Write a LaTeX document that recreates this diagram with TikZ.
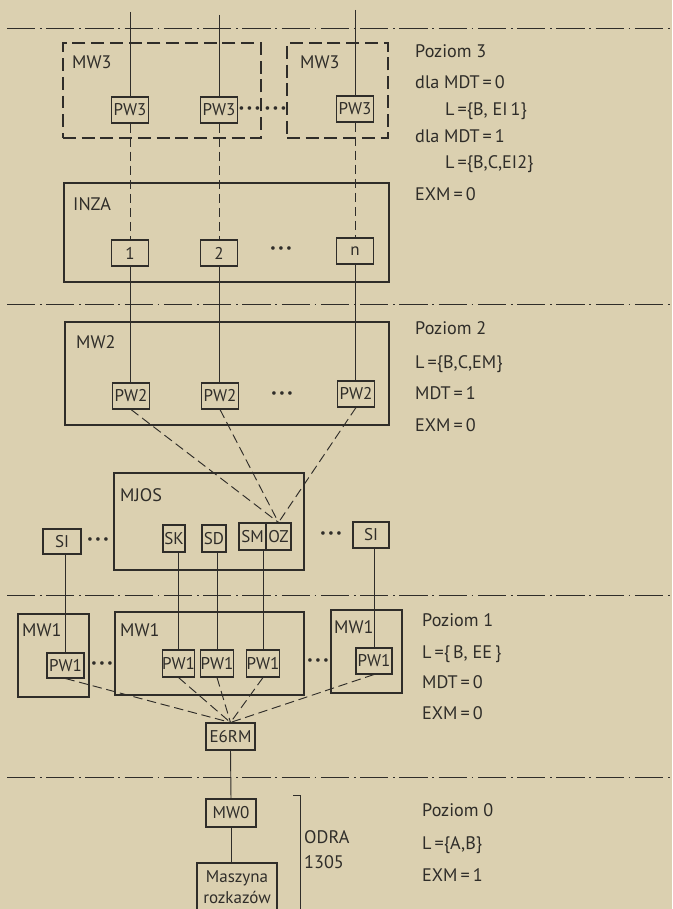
\documentclass[tikz,border=0pt]{standalone}
\usepackage{fontspec}
\setmainfont{PT Sans}
\usetikzlibrary{positioning,calc}
\definecolor{Paper}{HTML}{DBD0B0}
\definecolor{Ink}{HTML}{2F2D29}

\begin{document}
\begin{tikzpicture}[x=0.03cm,y=-0.03cm,
  every node/.style={font=\fontsize{15.5}{19}\selectfont,text=Ink},
  box/.style={draw=Ink,line width=0.9pt,inner sep=0.5pt,minimum width=1.11cm,minimum height=0.78cm,font=\fontsize{14.5}{18}\selectfont},
  frame/.style={draw=Ink,line width=0.9pt,inner sep=0pt},
  dframe/.style={frame,dash pattern=on 11pt off 5pt},
  level/.style={draw=Ink,line width=0.8pt,dash pattern=on 24pt off 4pt on 1.5pt off 4pt},
  wire/.style={draw=Ink,line width=0.8pt},
  dwire/.style={wire,dash pattern=on 8pt off 4pt},
  tag/.style={anchor=base west,inner sep=0pt},
  dots/.style={inner sep=0pt,font=\fontsize{11}{12}\selectfont}]
  \useasboundingbox (0,0) rectangle (672,909);
  \fill[Paper] (0,0) rectangle (672,909);

  % level separators
  \foreach \y in {28,304,595,777}{\draw[level] (7,\y) -- (672,\y);}

  % containers
  \node[dframe,minimum width=5.94cm,minimum height=2.85cm] (mw3a) at (162,90.5) {};
  \node[dframe,minimum width=3.03cm,minimum height=2.85cm] (mw3b) at (337.5,90.5) {};
  \node[frame,minimum width=9.75cm,minimum height=2.97cm] (inza) at (226.5,232.5) {};
  \node[frame,minimum width=9.72cm,minimum height=3.09cm] (mw2) at (227,373.5) {};
  \node[frame,minimum width=5.7cm,minimum height=2.91cm] (mjos) at (209,521.5) {};
  \node[frame,minimum width=2.13cm,minimum height=2.49cm] (mw1a) at (53.5,655.5) {};
  \node[frame,minimum width=5.67cm,minimum height=2.49cm] (mw1b) at (209.5,653.5) {};
  \node[frame,minimum width=2.13cm,minimum height=2.49cm] (mw1c) at (366.5,651.5) {};
  \node[tag] (mw3aT) at (72,69) {MW3};
  \node[tag] (mw3bT) at (300,69) {MW3};
  \node[tag] (inzaT) at (73,211) {INZA};
  \node[tag] (mw2T) at (76,348) {MW2};
  \node[tag] (mjosT) at (120,501) {MJOS};
  \node[tag] (mw1aT) at (22,636) {MW1};
  \node[tag] (mw1bT) at (120,636) {MW1};
  \node[tag] (mw1cT) at (334,633) {MW1};

  % level 3 and INZA
  \node[box] (pw3a) at (130,110) {PW3};
  \node[box] (pw3b) at (219,110) {PW3};
  \node[box] (pw3c) at (355,109) {PW3};
  \node[box] (in1) at (130,253) {1};
  \node[box] (in2) at (219,253) {2};
  \node[box] (inn) at (355,251) {n};
  \node[dots] (d3a) at (249.5,110) {\textbullet\,\textbullet\,\textbullet};
  \node[dots] (d3b) at (275.5,110) {\textbullet\,\textbullet\,\textbullet};
  \node[dots] (dIn) at (281,250) {\textbullet\,\textbullet\,\textbullet};

  % level 2
  \node[box] (pw2a) at (131,396) {PW2};
  \node[box] (pw2b) at (220,396) {PW2};
  \node[box] (pw2c) at (356,394) {PW2};
  \node[dots] (d2) at (282,395) {\textbullet\,\textbullet\,\textbullet};

  % MJOS
  \node[box,minimum width=0.66cm,minimum height=0.81cm] (sk) at (174,538.5) {SK};
  \node[box,minimum width=0.72cm,minimum height=0.81cm] (sd) at (214,538.5) {SD};
  \node[box,minimum width=0.81cm,minimum height=0.81cm] (sm) at (252.5,536.5) {SM};
  \node[box,minimum width=0.75cm,minimum height=0.81cm] (oz) at (278.5,536.5) {OZ};
  \node[box,minimum width=1.14cm,minimum height=0.75cm] (sil) at (62,541.5) {SI};
  \node[box,minimum width=1.08cm,minimum height=0.78cm] (sir) at (371,535) {SI};
  \node[dots] (dSl) at (98,541) {\textbullet\,\textbullet\,\textbullet};
  \node[dots] (dSr) at (331,535) {\textbullet\,\textbullet\,\textbullet};

  % level 1
  \node[box,minimum height=0.75cm] (pw1a) at (65.5,665.5) {PW1};
  \node[box,minimum width=0.93cm,minimum height=0.81cm,inner xsep=0pt] (pw1b) at (178.5,663.5) {PW1};
  \node[box,minimum width=0.93cm,minimum height=0.81cm,inner xsep=0pt] (pw1c) at (217,663.5) {PW1};
  \node[box,minimum width=0.87cm,minimum height=0.81cm,inner xsep=0pt] (pw1d) at (263,663.5) {PW1};
  \node[box,minimum width=1.08cm,minimum height=0.78cm] (pw1e) at (374,661) {PW1};
  \node[dots] (d1a) at (102,665) {\textbullet\,\textbullet\,\textbullet};
  \node[dots] (d1b) at (318,662) {\textbullet\,\textbullet\,\textbullet};
  \node[box,minimum width=1.47cm,minimum height=0.81cm] (e6rm) at (230.5,736.5) {E6RM};

  % level 0
  \node[box,minimum width=1.5cm,minimum height=0.84cm] (mw0) at (231,813) {MW0};
  \node[box,minimum width=2.4cm,minimum height=1.44cm,align=center,font=\fontsize{14.5}{18}\selectfont] (masz) at (237,887) {Maszyna\\rozkazów};
  \draw[wire] (293,795) -- (300,795) -- (300,915);
  \node[tag] (odra) at (304,843) {ODRA};
  \node[tag] (odraN) at (304,868) {1305};

  % connections
  \coordinate (top1) at (130,12);
  \coordinate (top2) at (219,15);
  \coordinate (top3) at (355,10);
  \foreach \t/\p/\i/\q in {top1/pw3a/in1/pw2a,top2/pw3b/in2/pw2b,top3/pw3c/inn/pw2c}{
    \draw[wire] (\t) -- (\p.north);
    \draw[dwire] (\p.south) -- (\i.north);
    \draw[wire] (\i.south) -- (\i.south |- \q.north);
  }
  \foreach \p in {pw2a,pw2b,pw2c}{\draw[dwire] (\p.south) -- (oz.north);}
  \draw[wire] (sil.south) -- (sil.south -| pw1a.north) -- (pw1a.north);
  \foreach \s/\p in {sk/pw1b,sd/pw1c,sm/pw1d,sir/pw1e}{\draw[wire] (\p.north |- \s.south) -- (\p.north);}
  \foreach \p in {pw1a,pw1b,pw1c,pw1d,pw1e}{\draw[dwire] (\p.south) -- (e6rm.north);}
  \draw[wire] (e6rm.south) -- (mw0.north);
  \draw[wire] (mw0.south) -- (mw0.south |- masz.north);

  % level descriptions
  \foreach \y/\t [count=\i] in {58/{Poziom 3},89/{dla MDT\,=\,0},143/{dla MDT\,=\,1},201/{EXM\,=\,0}}
    {\node[tag] (lv3\i) at (415,\y) {\t};}
  \node[tag] (lv3L1) at (445,116) {L\,=\{B, EI\,1\}};
  \node[tag] (lv3L2) at (445,169) {L\,=\{B,C,EI2\}};
  \foreach \y/\t [count=\i] in {334/{Poziom 2},368/{L\,=\{B,C,EM\}},399/{MDT\,=\,1},431/{EXM\,=\,0}}
    {\node[tag] (lv2\i) at (415,\y) {\t};}
  \foreach \y/\t [count=\i] in {626/{Poziom 1},658/{L\,=\{\,B, EE\,\}},688/{MDT\,=\,0},719/{EXM\,=\,0}}
    {\node[tag] (lv1\i) at (422,\y) {\t};}
  \foreach \y/\t [count=\i] in {816/{Poziom 0},849/{L\,=\{A,B\}},881/{EXM\,=\,1}}
    {\node[tag] (lv0\i) at (422,\y) {\t};}
\end{tikzpicture}
\end{document}
